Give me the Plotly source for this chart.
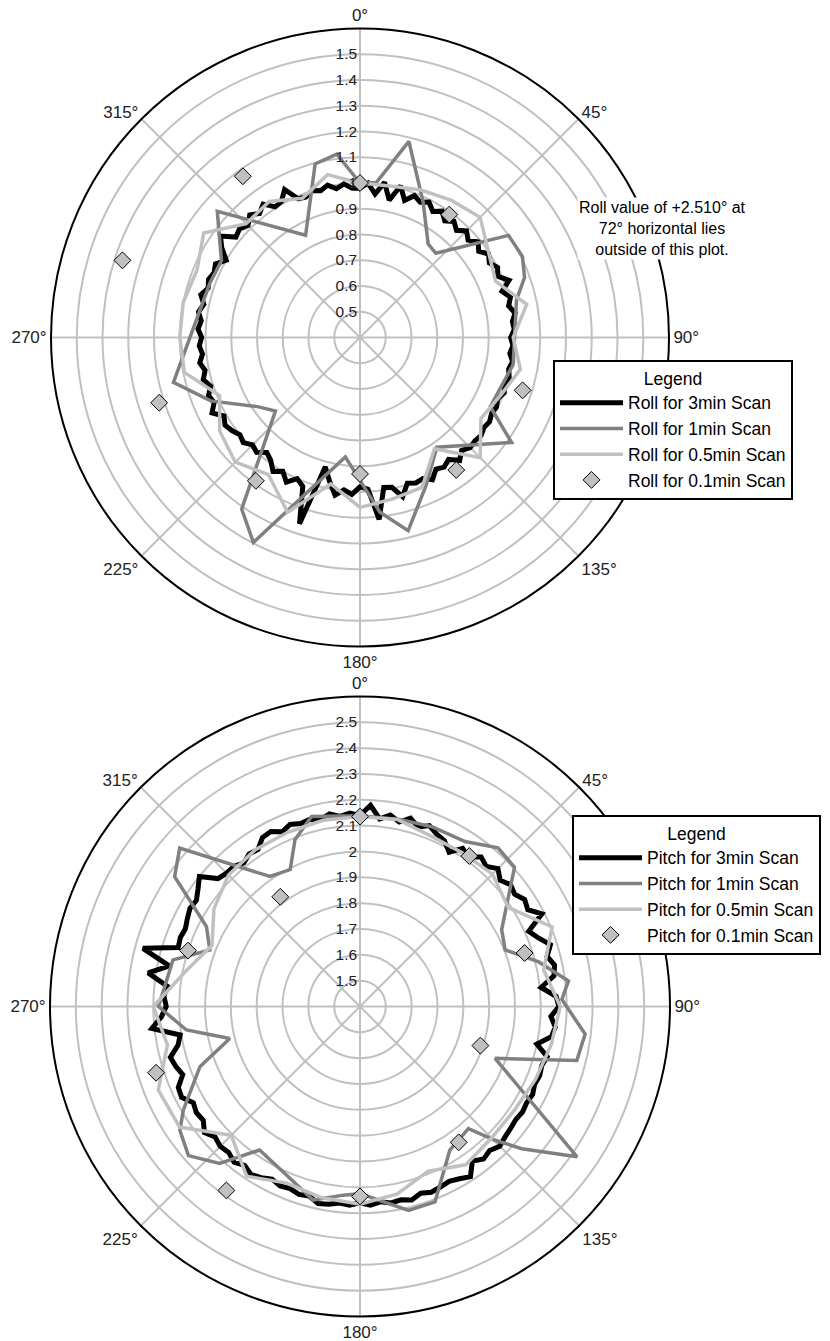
import plotly.graph_objects as go

FONT = "Arial, Liberation Sans, sans-serif"

# ---------------- TOP: Roll ----------------
ang_3deg = [0, 3, 6, 9, 12, 15, 18, 21, 24, 27, 30, 33, 36, 39, 42, 45, 48, 51, 54, 57,
            60, 63, 66, 69, 72, 75, 78, 81, 84, 87, 90, 93, 96, 99, 102, 105, 108, 111, 114, 117,
            120, 123, 126, 129, 132, 135, 138, 141, 144, 147, 150, 153, 156, 159, 162, 165, 168, 171, 174, 177,
            180, 183, 186, 189, 192, 195, 198, 201, 204, 207, 210, 213, 216, 219, 222, 225, 228, 231, 234, 237,
            240, 243, 246, 249, 252, 255, 258, 261, 264, 267, 270, 273, 276, 279, 282, 285, 288, 291, 294, 297,
            300, 303, 306, 309, 312, 315, 318, 321, 324, 327, 330, 333, 336, 339, 342, 345, 348, 351, 354, 357]

roll_3min = [0.98, 1.00, 0.96, 1.01, 0.945, 1.01, 0.96, 0.99, 0.975, 0.99, 0.965, 0.985, 0.96, 0.98, 0.96, 0.985, 0.965, 0.99, 0.97, 0.995,
             0.98, 1.00, 0.985, 1.02, 0.98, 1.005, 0.99, 1.01, 0.995, 1.00, 0.985, 0.995, 0.985, 1.00, 0.99, 1.00, 0.99, 1.00, 0.985, 0.995,
             0.99, 1.00, 0.995, 1.005, 1.00, 1.005, 0.99, 1.015, 0.985, 1.00, 0.99, 1.02, 1.00, 1.005, 0.995, 1.04, 0.995, 0.99, 1.11, 0.99,
             0.98, 1.01, 0.995, 1.02, 0.97, 0.92, 1.16, 1.02, 1.00, 1.03, 1.00, 1.02, 0.99, 0.975, 1.00, 0.99, 1.01, 1.00, 1.015, 1.025,
             1.01, 1.045, 1.02, 1.03, 1.01, 1.03, 1.015, 1.03, 1.015, 1.025, 1.015, 1.03, 1.02, 1.035, 1.02, 1.04, 1.02, 1.03, 1.02, 1.03,
             1.00, 1.04, 1.07, 1.02, 1.03, 1.015, 1.04, 1.02, 1.04, 1.005, 1.01, 1.045, 0.99, 0.985, 1.00, 0.99, 1.005, 0.985, 1.00, 0.98]

roll_1min_theta = [0, 6, 14, 25, 36, 42, 55.5, 63.5, 70, 76.5, 100, 118, 124.7, 145, 156, 166, 173.5, 187,
                   207.5, 214.6, 229, 236, 247, 256.5, 290, 299, 311.5, 332, 345.5, 352.8]
roll_1min = [1.00, 1.005, 1.185, 0.98, 0.85, 0.84, 1.10, 1.105, 1.08, 1.025, 1.004, 0.973, 1.116, 0.92, 1.03, 1.173, 1.083, 0.867,
             1.297, 1.209, 0.835, 0.88, 1.03, 1.145, 1.02, 1.015, 1.14, 0.85, 1.096, 1.118]

ang_11 = [0, 11.25, 22.5, 33.75, 45, 56.25, 67.5, 78.75, 90, 101.25, 112.5, 123.75, 135, 146.25, 157.5, 168.75,
          180, 191.25, 202.5, 213.75, 225, 236.25, 247.5, 258.75, 270, 281.25, 292.5, 303.75, 315, 326.25, 337.5, 348.75]
roll_05min = [1.00, 1.00, 1.02, 1.04, 1.06, 1.00, 0.97, 1.06, 0.995, 1.035, 0.99, 0.965, 1.06, 0.92, 1.03, 1.04,
              1.06, 0.98, 1.135, 1.04, 1.085, 1.055, 0.99, 1.095, 1.10, 1.10, 1.085, 1.13, 1.025, 1.035, 0.985, 1.045]

ang_36 = [0, 36, 72, 108, 144, 180, 216, 252, 288, 324]
roll_01min = [1.00, 0.99, 2.51, 1.064, 1.036, 0.93, 1.088, 1.22, 1.37, 1.174]

# ---------------- BOTTOM: Pitch ----------------
pitch_3min = [2.14, 2.18, 2.13, 2.15, 2.13, 2.155, 2.13, 2.15, 2.13, 2.12, 2.09, 2.13, 2.115, 2.145, 2.13, 2.155, 2.13, 2.15, 2.14, 2.16,
              2.15, 2.19, 2.115, 2.14, 2.175, 2.15, 2.17, 2.16, 2.105, 2.16, 2.17, 2.14, 2.16, 2.15, 2.10, 2.15, 2.14, 2.145, 2.14, 2.15,
              2.145, 2.15, 2.145, 2.15, 2.155, 2.165, 2.15, 2.16, 2.14, 2.185, 2.17, 2.16, 2.165, 2.17, 2.16, 2.175, 2.165, 2.17, 2.16, 2.17,
              2.16, 2.17, 2.165, 2.175, 2.18, 2.16, 2.165, 2.155, 2.16, 2.15, 2.165, 2.175, 2.16, 2.175, 2.16, 2.165, 2.155, 2.175, 2.15, 2.155,
              2.145, 2.175, 2.17, 2.135, 2.15, 2.16, 2.12, 2.105, 2.21, 2.17, 2.15, 2.16, 2.15, 2.23, 2.155, 2.27, 2.14, 2.145, 2.14, 2.15,
              2.16, 2.155, 2.175, 2.20, 2.14, 2.13, 2.13, 2.115, 2.13, 2.125, 2.155, 2.16, 2.14, 2.155, 2.145, 2.15, 2.14, 2.155, 2.14, 2.15]

pitch_1min_theta = [0, 12, 22, 32.5, 41, 48, 54, 61.5, 68.7, 76, 83, 88, 97, 104, 111, 124.7, 131.3, 134.7, 138.4, 148,
                    159, 166.6, 180, 185, 193.6, 203.5, 215, 221.8, 229, 235.5, 239.6, 249.4, 256.2, 262.3, 270, 284,
                    290.6, 297.5, 305, 311.3, 325.3, 333, 338.7, 345.7]
pitch_1min = [2.138, 2.14, 2.15, 2.157, 2.214, 2.205, 2.108, 2.024, 2.003, 2.113, 2.213, 2.182, 2.278, 2.265, 1.96, 2.422, 2.234, 2.136, 2.032, 2.056,
              2.21, 2.211, 2.124, 2.133, 2.171, 2.112, 2.078, 2.215, 2.28, 2.246, 2.193, 2.062, 1.919, 2.078, 2.18, 2.146,
              2.021, 2.07, 2.276, 2.329, 2.012, 1.995, 2.093, 2.159]

pitch_05min = [2.135, 2.138, 2.115, 2.115, 2.125, 2.09, 2.205, 2.125, 2.175, 2.155, 2.136, 2.12, 2.12, 2.137, 2.09, 2.14,
               2.165, 2.155, 2.14, 2.19, 2.105, 2.24, 2.245, 2.16, 2.20, 2.09, 2.02, 2.08, 2.12, 2.13, 2.13, 2.135]

pitch_01min = [2.135, 2.12, 2.07, 1.89, 2.05, 2.135, 2.28, 2.23, 2.10, 1.925]

angle_ticks = [0, 45, 90, 135, 180, 225, 270, 315]
angle_labels = ["0°", "45°", "90°", "135°", "180°", "225°", "270°", "315°"]
roll_ticks = [0.5, 0.6, 0.7, 0.8, 0.9, 1.0, 1.1, 1.2, 1.3, 1.4, 1.5]
roll_tick_text = ["0.5", "0.6", "0.7", "0.8", "0.9", "1", "1.1", "1.2", "1.3", "1.4", "1.5"]
pitch_ticks = [1.5, 1.6, 1.7, 1.8, 1.9, 2.0, 2.1, 2.2, 2.3, 2.4, 2.5]
pitch_tick_text = ["1.5", "1.6", "1.7", "1.8", "1.9", "2", "2.1", "2.2", "2.3", "2.4", "2.5"]

BLACK = "#000000"
DGRAY = "#808080"
LGRAY = "#c0c0c0"


def closed(a):
    return list(a) + [a[0]]


fig = go.Figure()

series = [
    ("polar", "legend", "Roll", ang_3deg, roll_3min, roll_1min_theta, roll_1min, roll_05min, roll_01min),
    ("polar2", "legend2", "Pitch", ang_3deg, pitch_3min, pitch_1min_theta, pitch_1min, pitch_05min, pitch_01min),
]
for sp, lg, name, t3, r3, t1, r1, r05, r01 in series:
    fig.add_trace(go.Scatterpolar(theta=closed(t3), r=closed(r3), mode="lines", subplot=sp, legend=lg,
                                  line=dict(color=BLACK, width=5), name=f"{name} for 3min Scan"))
    fig.add_trace(go.Scatterpolar(theta=closed(t1), r=closed(r1), mode="lines", subplot=sp, legend=lg,
                                  line=dict(color=DGRAY, width=3.5), name=f"{name} for 1min Scan"))
    fig.add_trace(go.Scatterpolar(theta=closed(ang_11), r=closed(r05), mode="lines", subplot=sp, legend=lg,
                                  line=dict(color=LGRAY, width=3.5), name=f"{name} for 0.5min Scan"))
    fig.add_trace(go.Scatterpolar(theta=ang_36, r=r01, mode="markers", subplot=sp, legend=lg, cliponaxis=True,
                                  marker=dict(symbol="diamond", size=13, color=LGRAY,
                                              line=dict(color="#000000", width=1)),
                                  name=f"{name} for 0.1min Scan"))

W, H = 830, 1341


def px(X):
    return X / W


def py(Y):
    return 1 - Y / H


def polar_layout(cx, cy, rad, rng, ticks, ticktext):
    return dict(
        domain=dict(x=[px(cx - rad), px(cx + rad)], y=[py(cy + rad), py(cy - rad)]),
        bgcolor="white",
        angularaxis=dict(rotation=90, direction="clockwise", tickmode="array",
                         tickvals=angle_ticks, ticktext=angle_labels,
                         showline=True, linecolor="black", linewidth=2,
                         showgrid=True, gridcolor=LGRAY, gridwidth=1.5, ticks="",
                         tickfont=dict(family=FONT, size=17, color="#222")),
        radialaxis=dict(range=rng, tickmode="array", tickvals=ticks, ticktext=ticktext,
                        angle=90, tickangle=90, side="counterclockwise", showline=False,
                        showgrid=True, gridcolor=LGRAY, gridwidth=1.5, ticks="",
                        tickfont=dict(family=FONT, size=15.5, color="#222")),
    )


def legend_layout(X, Y):
    return dict(x=px(X), y=py(Y), xanchor="left", yanchor="top", bgcolor="white",
                bordercolor="black", borderwidth=2, font=dict(family=FONT, size=17.5, color="#000"),
                title=dict(text="Legend", side="top center", font=dict(family=FONT, size=17.5)),
                tracegroupgap=0, itemwidth=63)


fig.update_layout(
    width=W, height=H,
    margin=dict(l=0, r=0, t=0, b=0, autoexpand=False),
    paper_bgcolor="white",
    font=dict(family=FONT, color="#000"),
    polar=polar_layout(360, 337.5, 309, [0.4, 1.6], roll_ticks, roll_tick_text),
    polar2=polar_layout(360, 1006.5, 310, [1.4, 2.6], pitch_ticks, pitch_tick_text),
    legend=legend_layout(553, 360),
    legend2=legend_layout(572, 815),
    annotations=[dict(text="Roll value of +2.510° at<br>72° horizontal lies<br>outside of this plot.",
                      x=px(662), y=py(229), xref="paper", yref="paper", showarrow=False,
                      xanchor="center", yanchor="middle", bgcolor="white",
                      font=dict(family=FONT, size=16, color="#000"))],
)

fig.write_html("out.html", config={"displayModeBar": False},
               post_script="document.body.style.margin='0';")
